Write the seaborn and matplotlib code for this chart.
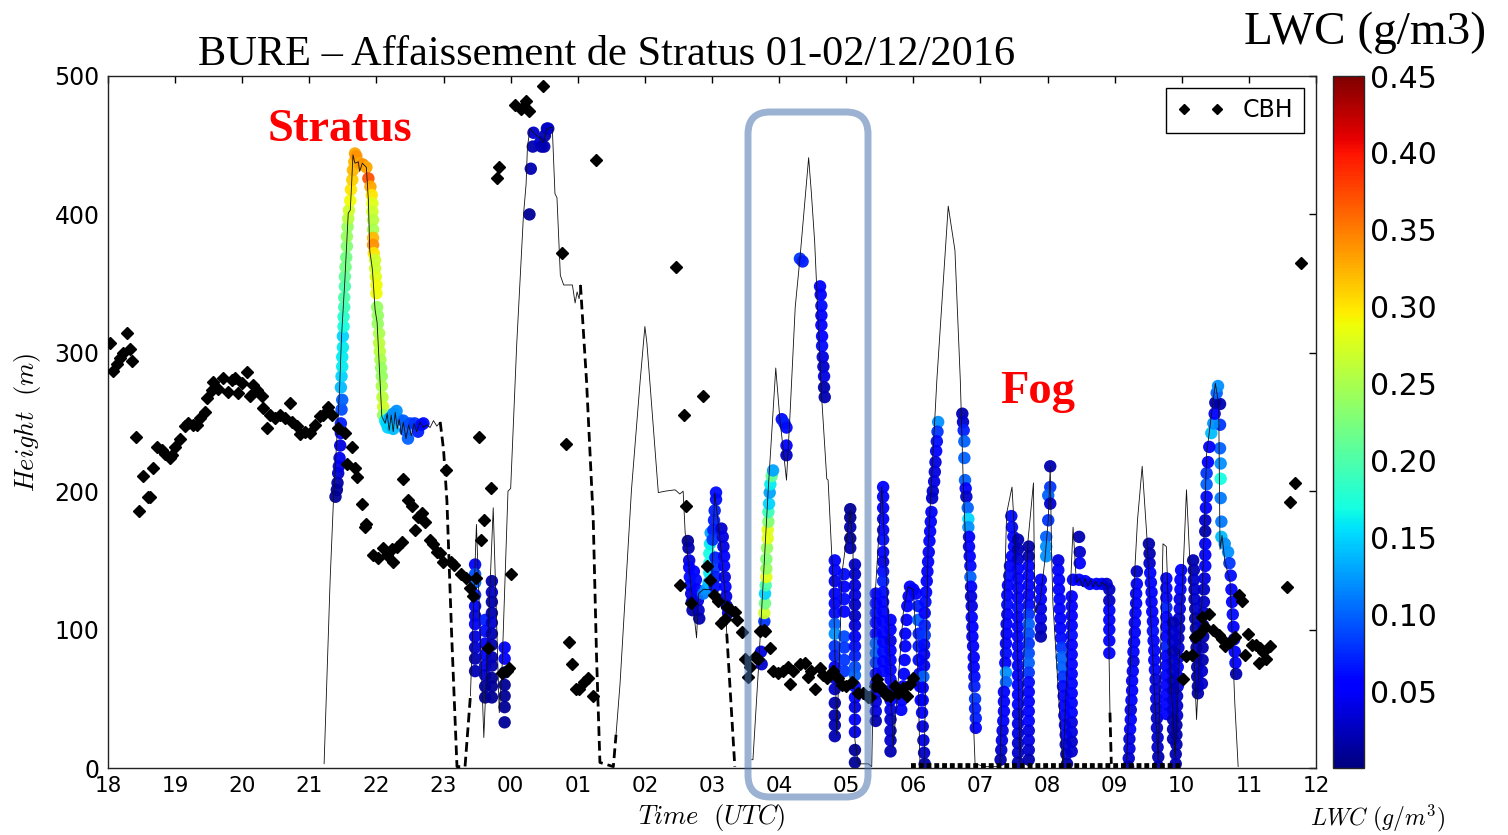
import matplotlib
matplotlib.use("Agg")
import matplotlib.pyplot as plt
import seaborn as sns
import pandas as pd
from matplotlib.cm import ScalarMappable
from matplotlib.colors import Normalize
from matplotlib.patches import FancyBboxPatch
from matplotlib.transforms import IdentityTransform

# ---------------------------------------------------------------- data
hour_ticks = list(range(18, 37))
hour_labels = [f"{h % 24:02d}" for h in hour_ticks]
height_ticks = [0, 100, 200, 300, 400, 500]
lwc_ticks = [0.05, 0.10, 0.15, 0.20, 0.25, 0.30, 0.35, 0.40, 0.45]

# cloud base height (t [h since 00 of day 1], height [m])
cbh_evening = [
    (18.03, 307), (18.07, 287), (18.13, 292), (18.18, 296), (18.22, 300), (18.28, 314), (18.33, 303), (18.36, 294),
    (18.42, 239), (18.46, 186), (18.52, 211), (18.60, 196), (18.62, 196), (18.67, 217), (18.73, 232), (18.80, 230),
    (18.85, 227), (18.92, 224), (18.95, 226), (19.00, 232), (19.07, 238), (19.15, 247), (19.19, 249), (19.27, 248),
    (19.33, 248), (19.37, 253), (19.45, 257), (19.48, 267), (19.55, 273), (19.56, 279), (19.64, 274), (19.71, 282),
    (19.79, 272), (19.85, 280), (19.89, 282), (19.94, 271), (20.00, 278), (20.07, 286), (20.12, 269), (20.16, 277),
    (20.22, 273), (20.29, 269), (20.31, 260), (20.37, 246), (20.41, 255), (20.49, 253), (20.56, 255), (20.64, 253),
    (20.71, 264), (20.74, 250), (20.82, 247), (20.86, 241), (20.94, 243), (21.01, 242), (21.08, 248), (21.16, 254),
    (21.20, 255), (21.28, 261), (21.34, 255), (21.43, 246), (21.53, 242), (21.64, 232), (21.56, 220), (21.68, 217),
    (21.71, 210), (21.78, 191), (21.83, 174), (21.85, 176), (21.95, 154), (22.02, 152), (22.10, 159), (22.16, 154),
    (22.25, 149), (22.23, 158), (22.31, 160), (22.38, 163), (22.40, 209), (22.47, 194), (22.53, 189), (22.57, 172),
    (22.62, 181), (22.68, 184), (22.72, 178), (22.80, 165), (22.84, 162), (22.90, 156), (22.95, 155), (22.99, 149),
]
cbh_night = [
    (23.04, 215), (23.11, 149), (23.16, 147), (23.26, 140), (23.33, 137), (23.39, 130), (23.44, 124), (23.49, 137),
    (23.53, 239), (23.56, 165), (23.61, 179), (23.71, 202), (23.66, 87), (23.87, 69), (23.94, 70), (23.98, 72),
    (24.00, 140), (23.80, 426), (23.83, 434), (24.06, 479), (24.16, 476), (24.23, 482), (24.27, 475), (24.48, 493),
    (24.76, 372), (25.27, 439), (24.82, 234), (24.87, 91), (24.92, 75), (24.98, 57), (25.02, 57), (25.09, 62),
    (25.15, 65), (25.22, 52),
]
cbh_morning = [
    (26.46, 362), (26.52, 132), (26.58, 255), (26.62, 189), (26.68, 119), (26.87, 269), (26.93, 146), (26.97, 136),
    (27.03, 125), (27.09, 121), (27.14, 105), (27.19, 108), (27.22, 116), (27.29, 114), (27.34, 113), (27.37, 107),
    (27.44, 98), (27.49, 79), (27.53, 66), (27.57, 73), (27.64, 80), (27.69, 79), (27.72, 99), (27.77, 100),
    (27.79, 99), (27.86, 87), (27.91, 70), (27.98, 69), (28.06, 70), (28.13, 73), (28.16, 61), (28.21, 70),
    (28.31, 75), (28.39, 76), (28.43, 66), (28.48, 70), (28.53, 57), (28.61, 72), (28.66, 67), (28.71, 65),
    (28.80, 70), (28.88, 65), (28.93, 60), (29.00, 59), (29.08, 62), (29.18, 54), (29.25, 54), (29.33, 51),
    (29.35, 51), (29.43, 59), (29.46, 64), (29.50, 59), (29.53, 56), (29.58, 55), (29.60, 53), (29.65, 52),
    (29.73, 59), (29.77, 54), (29.85, 58), (29.90, 52), (29.95, 61), (30.00, 65),
]
cbh_late = [
    (34.02, 64), (34.07, 81), (34.15, 82), (34.20, 95), (34.25, 97), (34.30, 109), (34.35, 102), (34.41, 111),
    (34.47, 100), (34.55, 96), (34.60, 93), (34.65, 88), (34.72, 91), (34.79, 95), (34.86, 125), (34.89, 121),
    (34.94, 82), (34.99, 97), (35.04, 89), (35.11, 89), (35.16, 87), (35.15, 76), (35.21, 84), (35.25, 79),
    (35.31, 88), (35.57, 131), (35.62, 192), (35.69, 206), (35.78, 365),
]
cbh_zero_span = [29.97, 34.02]   # CBH = 0 (fog) during this interval

# tethered-balloon altitude (solid) and the interpolated parts (dashed)
balloon_a = [
    (21.22, 3), (21.31, 136), (21.36, 194), (21.45, 273), (21.48, 312), (21.53, 353), (21.58, 401), (21.61, 403),
    (21.63, 422), (21.65, 443), (21.68, 437), (21.73, 438), (21.75, 431), (21.79, 437), (21.85, 434), (21.88, 410),
    (21.90, 374), (21.94, 360), (21.98, 331), (22.01, 322), (22.08, 254), (22.13, 249), (22.16, 256), (22.19, 244),
    (22.22, 255), (22.25, 243), (22.28, 257), (22.31, 245), (22.34, 252), (22.37, 241), (22.40, 250), (22.44, 238),
    (22.48, 248), (22.52, 240), (22.56, 249), (22.60, 243), (22.65, 250), (22.70, 246), (22.75, 248), (22.80, 246),
    (22.85, 251), (22.90, 247), (22.95, 250),
]
balloon_b = [
    (23.40, 52), (23.49, 176), (23.60, 22), (23.74, 188), (23.83, 40), (23.87, 70), (23.96, 200), (24.00, 202),
    (24.09, 306), (24.19, 399), (24.23, 422), (24.25, 449), (24.29, 462), (24.36, 458), (24.44, 455), (24.49, 452),
    (24.54, 462), (24.62, 463), (24.66, 415), (24.69, 412), (24.74, 356), (24.79, 349), (24.86, 349), (24.92, 349),
    (24.96, 336), (24.99, 344), (25.02, 339), (25.04, 349),
]
balloon_c = [
    (25.57, 24), (25.63, 61), (25.80, 201), (25.93, 280), (26.00, 319), (26.03, 307), (26.20, 199), (26.30, 200),
    (26.45, 201), (26.52, 198), (26.57, 200), (26.60, 170), (26.77, 94), (26.80, 126), (26.87, 129), (26.99, 129),
    (27.04, 199), (27.11, 170), (27.19, 129), (27.22, 97),
]
balloon_d = [
    (27.59, 6), (27.61, 6), (27.69, 70), (27.84, 203), (27.95, 289), (28.01, 253), (28.11, 208), (28.16, 253),
    (28.24, 333), (28.31, 368), (28.44, 441), (28.48, 416), (28.53, 380), (28.63, 271), (28.71, 209), (28.73, 208),
    (28.81, 129), (28.86, 24), (28.94, 142), (29.06, 186), (29.10, 160), (29.13, 20), (29.18, 3), (29.33, 3),
    (29.38, 1), (29.43, 124), (29.53, 203), (29.63, 107), (29.70, 15), (29.85, 112), (29.92, 131), (30.00, 129),
    (30.07, 68), (30.10, 1), (30.16, 1), (30.22, 160), (30.35, 280), (30.52, 406), (30.62, 374), (30.70, 280),
    (30.75, 196), (30.89, 40), (30.92, 3), (31.07, 1), (31.29, 1), (31.39, 184), (31.47, 203), (31.52, 160),
    (31.59, 4), (31.71, 165), (31.79, 206), (31.81, 112), (31.89, 121), (31.96, 150), (32.01, 179), (32.04, 218),
    (32.06, 155), (32.08, 119), (32.23, 1), (32.31, 95), (32.38, 174), (32.43, 134), (32.48, 137), (32.52, 131),
    (32.56, 137), (32.60, 131), (32.64, 136), (32.68, 131), (32.72, 135), (32.76, 131), (32.81, 134), (32.90, 131),
    (32.93, 40),
]
balloon_e = [
    (33.18, 6), (33.26, 107), (33.34, 179), (33.41, 218), (33.48, 167), (33.60, 47), (33.65, 6), (33.72, 162),
    (33.77, 160), (33.83, 71), (33.90, 8), (34.00, 119), (34.07, 201), (34.15, 119), (34.22, 35), (34.30, 119),
    (34.37, 227), (34.50, 278), (34.55, 263), (34.57, 158), (34.60, 168), (34.64, 150), (34.72, 134), (34.79, 47),
    (34.84, 1),
]
dashed_1 = [(22.95, 250), (23.00, 230), (23.05, 193), (23.12, 97), (23.20, 1), (23.32, 1), (23.40, 52)]
dashed_2 = [(25.04, 349), (25.13, 280), (25.23, 180), (25.28, 80), (25.33, 4), (25.53, 1), (25.57, 24)]
dashed_3 = [(27.22, 97), (27.34, 1)]
dashed_4 = [(32.93, 40), (32.95, 3)]

# liquid water content along the balloon path (t, height, LWC g/m3)
lwc_stratus = [
    (21.39, 196, 0.01), (21.41, 201, 0.01), (21.42, 206, 0.015), (21.43, 213, 0.03), (21.44, 218, 0.04),
    (21.45, 224, 0.045), (21.46, 233, 0.04), (21.47, 242, 0.05), (21.47, 249, 0.07), (21.48, 259, 0.09),
    (21.49, 266, 0.10), (21.47, 275, 0.14), (21.48, 283, 0.15), (21.49, 290, 0.16), (21.49, 297, 0.16),
    (21.50, 304, 0.16), (21.50, 312, 0.15), (21.51, 319, 0.17), (21.51, 326, 0.18), (21.52, 333, 0.19),
    (21.52, 340, 0.20), (21.53, 348, 0.20), (21.53, 355, 0.21), (21.54, 362, 0.22), (21.55, 369, 0.22),
    (21.56, 377, 0.23), (21.56, 384, 0.24), (21.57, 391, 0.24), (21.58, 397, 0.26), (21.59, 403, 0.27),
    (21.61, 410, 0.29), (21.62, 418, 0.30), (21.64, 425, 0.31), (21.65, 432, 0.32), (21.67, 438, 0.32),
    (21.68, 444, 0.33), (21.70, 442, 0.34), (21.75, 437, 0.33), (21.80, 436, 0.34), (21.85, 434, 0.33),
    (21.88, 426, 0.37), (21.91, 420, 0.33), (21.93, 414, 0.30), (21.94, 408, 0.28), (21.94, 402, 0.27),
    (21.95, 396, 0.26), (21.95, 389, 0.25), (21.95, 383, 0.32), (21.95, 378, 0.34), (21.96, 372, 0.30),
    (21.98, 367, 0.27), (21.98, 361, 0.27), (21.99, 355, 0.28), (22.00, 349, 0.29), (22.00, 343, 0.29),
    (22.01, 333, 0.24), (22.02, 327, 0.24), (22.02, 321, 0.24), (22.04, 314, 0.25), (22.04, 307, 0.26),
    (22.05, 301, 0.26), (22.06, 295, 0.25), (22.07, 289, 0.24), (22.08, 283, 0.24), (22.08, 276, 0.25),
    (22.09, 268, 0.26), (22.10, 261, 0.27), (22.10, 255, 0.24), (22.13, 251, 0.16), (22.15, 249, 0.15),
    (22.17, 246, 0.15), (22.20, 253, 0.13), (22.25, 256, 0.12), (22.25, 245, 0.14), (22.30, 258, 0.12),
    (22.33, 252, 0.12), (22.40, 251, 0.10), (22.43, 244, 0.10), (22.47, 238, 0.10), (22.50, 249, 0.09),
    (22.57, 249, 0.08), (22.62, 243, 0.07), (22.67, 248, 0.06), (22.70, 249, 0.06),
]
lwc_high_night = [
    (24.28, 400, 0.01), (24.30, 433, 0.02), (24.33, 449, 0.02), (24.34, 459, 0.03), (24.44, 452, 0.03),
    (24.46, 449, 0.02), (24.50, 449, 0.02), (24.51, 457, 0.02), (24.54, 462, 0.02), (24.56, 462, 0.03),
]
lwc_morning = [
    (26.64, 164, 0.01), (26.65, 159, 0.02), (26.66, 150, 0.04), (26.66, 145, 0.05), (26.67, 138, 0.06),
    (26.68, 132, 0.06), (26.69, 126, 0.04), (26.70, 120, 0.04), (26.71, 114, 0.02), (26.73, 142, 0.05),
    (26.76, 136, 0.06), (26.77, 129, 0.05), (26.79, 121, 0.04), (26.80, 114, 0.03), (26.81, 108, 0.02),
    (26.87, 126, 0.11), (26.91, 129, 0.12), (26.95, 134, 0.14), (26.96, 141, 0.16), (26.96, 148, 0.17),
    (26.96, 155, 0.17), (26.97, 162, 0.16), (26.98, 170, 0.13), (27.06, 199, 0.06), (27.06, 194, 0.06),
    (27.04, 186, 0.07), (27.03, 179, 0.07), (27.02, 172, 0.07), (27.01, 165, 0.08), (27.05, 152, 0.07),
    (27.05, 145, 0.08), (27.05, 138, 0.07), (27.04, 131, 0.06), (27.14, 173, 0.03), (27.16, 167, 0.04),
    (27.17, 160, 0.04), (27.18, 153, 0.05), (27.18, 146, 0.05), (27.19, 138, 0.04), (27.20, 131, 0.05),
    (27.21, 124, 0.04), (27.22, 117, 0.03), (27.24, 112, 0.04),
    (27.74, 75, 0.03), (27.73, 84, 0.04), (27.78, 106, 0.08), (27.78, 112, 0.27), (27.79, 119, 0.22),
    (27.79, 126, 0.15), (27.80, 132, 0.20), (27.81, 138, 0.28), (27.81, 144, 0.24), (27.81, 151, 0.23),
    (27.82, 159, 0.24), (27.83, 166, 0.28), (27.83, 172, 0.28), (27.84, 178, 0.23), (27.84, 185, 0.19),
    (27.85, 191, 0.15), (27.86, 199, 0.13), (27.87, 205, 0.16), (27.89, 211, 0.21), (27.91, 215, 0.13),
    (28.04, 252, 0.06), (28.08, 249, 0.07), (28.11, 246, 0.06), (28.11, 233, 0.05), (28.11, 226, 0.03),
    (28.31, 368, 0.08), (28.35, 366, 0.07), (28.61, 348, 0.05), (28.62, 342, 0.05), (28.63, 334, 0.06),
    (28.63, 327, 0.05), (28.63, 320, 0.05), (28.64, 312, 0.05), (28.64, 305, 0.06), (28.65, 297, 0.04),
    (28.66, 290, 0.03), (28.67, 283, 0.04), (28.67, 275, 0.02), (28.68, 268, 0.02),
]
lwc_late = [
    (32.47, 167, 0.02), (32.48, 156, 0.03), (32.48, 148, 0.05), (32.38, 136, 0.05), (32.47, 136, 0.05),
    (32.56, 135, 0.05), (32.63, 133, 0.05), (32.73, 133, 0.05), (32.81, 133, 0.05), (32.88, 133, 0.03),
    (34.57, 263, 0.02), (34.57, 248, 0.08), (34.57, 231, 0.10), (34.58, 220, 0.12), (34.58, 209, 0.17),
    (34.58, 195, 0.11), (34.59, 178, 0.11), (34.59, 167, 0.14), (34.64, 162, 0.12), (34.69, 156, 0.12),
    (34.71, 148, 0.08), (34.73, 139, 0.06), (34.74, 129, 0.05), (34.75, 120, 0.05), (34.76, 111, 0.06),
    (34.77, 102, 0.05), (34.78, 93, 0.05), (34.79, 84, 0.05), (34.80, 76, 0.05), (34.81, 68, 0.02),
]
# vertical soundings: (time or list of times, heights, LWC values)
lwc_profiles_night = [
    (23.47, [147, 140, 134, 125, 117, 110, 104, 95, 87, 79, 70],
     [0.05, 0.09, 0.10, 0.07, 0.05, 0.04, 0.05, 0.04, 0.03, 0.02, 0.02]),
    (23.62, [107, 99, 90, 82, 74, 67, 59, 51], [0.07, 0.06, 0.05, 0.05, 0.04, 0.03, 0.02, 0.01]),
    (23.72, [135, 127, 120, 112, 105, 97, 89, 80, 74, 65, 59, 51],
     [0.02, 0.03, 0.02, 0.02, 0.03, 0.02, 0.02, 0.02, 0.02, 0.01, 0.01, 0.01]),
    (23.91, [87, 79, 69, 60, 52, 44, 33], [0.05, 0.05, 0.02, 0.01, 0.01, 0.01, 0.01]),
]
lwc_profiles_dawn = [
    (28.83, [150, 143, 135, 126, 119, 112, 104, 97, 88, 81, 73, 65, 57, 47, 38, 31, 23],
     [0.05, 0.05, 0.04, 0.05, 0.05, 0.06, 0.10, 0.12, 0.08, 0.07, 0.05, 0.04, 0.03, 0.02, 0.02, 0.02, 0.02]),
    (28.97, [140, 131, 122, 113, 95, 87, 78, 70], [0.06, 0.05, 0.06, 0.05, 0.09, 0.08, 0.08, 0.08]),
    (29.06, [187, 181, 174, 166, 159], [0.01, 0.01, 0.02, 0.01, 0.02]),
    (29.13, [147, 140, 132, 125, 118, 110, 103, 95, 88, 81, 73, 67, 59, 51, 44, 35, 26, 13, 4],
     [0.03, 0.03, 0.04, 0.04, 0.03, 0.03, 0.04, 0.05, 0.06, 0.07, 0.09, 0.10, 0.06, 0.05, 0.04, 0.05, 0.04,
      0.01, 0.01]),
]
lwc_profiles_fog1 = [
    (29.44, [126, 119, 112, 105, 97, 90, 83, 76, 68, 61, 54, 48, 41, 34],
     [0.05, 0.05, 0.06, 0.05, 0.05, 0.10, 0.10, 0.08, 0.05, 0.05, 0.04, 0.04, 0.04, 0.02]),
    (29.55, [203, 196, 188, 180, 172, 165, 156, 149, 142, 135, 127, 120, 113, 106, 98, 91, 84, 77, 70],
     [0.05, 0.05, 0.05, 0.05, 0.05, 0.06, 0.05, 0.04, 0.06, 0.07, 0.06, 0.05, 0.05, 0.05, 0.05, 0.05, 0.06,
      0.05, 0.05]),
    (29.66, [107, 100, 92, 85, 78, 71, 64, 56, 49, 42, 35, 27, 20, 12],
     [0.05, 0.05, 0.04, 0.05, 0.05, 0.05, 0.05, 0.05, 0.05, 0.04, 0.03, 0.03, 0.03, 0.02]),
    ([29.95, 29.93, 29.91, 29.90, 29.88, 29.88, 29.87, 29.86, 29.85, 29.83, 29.82],
     [131, 124, 117, 107, 97, 88, 78, 68, 59, 49, 42],
     [0.05, 0.05, 0.05, 0.05, 0.05, 0.05, 0.05, 0.05, 0.05, 0.05, 0.05]),
    ([30.00, 30.04, 30.07, 30.07, 30.08, 30.08, 30.08, 30.09, 30.10, 30.11, 30.13, 30.14, 30.15, 30.16, 30.17],
     [129, 126, 117, 107, 97, 88, 78, 68, 59, 49, 40, 30, 20, 11, 3],
     [0.05, 0.05, 0.07, 0.10, 0.07, 0.07, 0.06, 0.06, 0.05, 0.05, 0.05, 0.04, 0.04, 0.03, 0.02]),
    ([30.37, 30.36, 30.35, 30.34, 30.33, 30.32, 30.31, 30.29, 30.28, 30.27, 30.26, 30.25, 30.24, 30.23,
      30.22, 30.21, 30.20, 30.19, 30.18, 30.17, 30.17, 30.17, 30.16, 30.16, 30.16, 30.15, 30.14, 30.14],
     [250, 243, 236, 229, 221, 214, 207, 200, 195, 185, 178, 171, 164, 156, 149, 142, 135, 127, 120, 112,
      103, 96, 89, 82, 74, 66, 58, 49],
     [0.12, 0.08, 0.06, 0.05, 0.04, 0.04, 0.04, 0.03, 0.03, 0.05, 0.05, 0.05, 0.05, 0.05, 0.05, 0.05, 0.05,
      0.05, 0.06, 0.05, 0.07, 0.08, 0.06, 0.05, 0.05, 0.10, 0.05, 0.05]),
    ([30.73, 30.74, 30.75, 30.76, 30.76, 30.77, 30.78, 30.79, 30.81, 30.82, 30.82, 30.83, 30.83, 30.84, 30.85,
      30.85, 30.86, 30.86, 30.87, 30.87, 30.88, 30.88, 30.89, 30.90, 30.90, 30.91, 30.91, 30.92, 30.92, 30.93,
      30.93],
     [256, 250, 244, 236, 224, 208, 202, 196, 188, 180, 174, 167, 160, 153, 146, 138, 131, 124, 117, 109, 102,
      95, 88, 80, 73, 66, 59, 50, 43, 36, 29],
     [0.02, 0.03, 0.07, 0.10, 0.10, 0.10, 0.05, 0.03, 0.10, 0.15, 0.12, 0.05, 0.05, 0.05, 0.06, 0.10, 0.05,
      0.04, 0.04, 0.05, 0.05, 0.05, 0.05, 0.05, 0.05, 0.06, 0.07, 0.08, 0.07, 0.07, 0.05]),
]
lwc_profiles_fog2 = [
    ([31.46, 31.47, 31.49, 31.50, 31.47, 31.44, 31.43, 31.41, 31.40, 31.40, 31.40, 31.39, 31.39, 31.38, 31.38,
      31.37, 31.38, 31.38, 31.35, 31.35, 31.35, 31.34, 31.33, 31.32, 31.31, 31.30],
     [182, 174, 167, 160, 153, 146, 139, 132, 125, 118, 111, 104, 97, 90, 83, 76, 69, 62, 55, 48, 41, 34, 27,
      20, 13, 6],
     [0.06, 0.06, 0.05, 0.05, 0.05, 0.05, 0.06, 0.05, 0.05, 0.06, 0.05, 0.05, 0.05, 0.05, 0.06, 0.05, 0.12,
      0.10, 0.05, 0.05, 0.05, 0.05, 0.04, 0.04, 0.03, 0.02]),
    (31.56, [165, 158, 151, 144, 137, 130, 123, 116, 109, 102, 95, 88, 81, 74, 67, 60, 53, 46, 39, 32, 25, 18,
             11, 4],
     [0.02, 0.02, 0.03, 0.05, 0.05, 0.05, 0.05, 0.06, 0.05, 0.05, 0.05, 0.05, 0.05, 0.05, 0.05, 0.05, 0.05,
      0.05, 0.04, 0.04, 0.04, 0.03, 0.03, 0.02]),
    (31.72, [160, 153, 146, 139, 132, 125, 118, 111, 104, 97, 90, 83, 76, 69, 62, 55, 48, 41, 34, 27, 20, 13,
             6],
     [0.02, 0.02, 0.05, 0.05, 0.05, 0.05, 0.06, 0.08, 0.10, 0.09, 0.08, 0.09, 0.10, 0.08, 0.06, 0.05, 0.05,
      0.05, 0.05, 0.04, 0.04, 0.03, 0.02]),
    (31.90, [136, 129, 122, 115, 108, 101, 95], [0.05, 0.05, 0.05, 0.04, 0.04, 0.03, 0.02]),
    ([32.04, 32.04, 32.01, 32.04, 32.01, 31.98, 31.98, 31.98], [218, 203, 197, 191, 179, 167, 160, 153],
     [0.02, 0.08, 0.10, 0.03, 0.08, 0.10, 0.12, 0.12]),
    ([32.16, 32.16, 32.17, 32.17, 32.18, 32.18, 32.19, 32.19, 32.20, 32.21, 32.21, 32.22, 32.23, 32.23, 32.24,
      32.25, 32.25, 32.26, 32.27, 32.27, 32.28, 32.29],
     [150, 143, 136, 129, 122, 115, 108, 101, 94, 87, 80, 73, 66, 59, 52, 45, 38, 31, 24, 17, 10, 3],
     [0.04, 0.05, 0.05, 0.05, 0.05, 0.05, 0.05, 0.05, 0.06, 0.08, 0.10, 0.10, 0.08, 0.06, 0.05, 0.05, 0.05,
      0.05, 0.05, 0.04, 0.03, 0.02]),
    (32.36, [124, 117, 110, 103, 96, 89, 82, 75, 68, 61, 54, 47, 40, 33, 26, 19, 12],
     [0.05, 0.05, 0.05, 0.05, 0.06, 0.05, 0.05, 0.05, 0.05, 0.05, 0.05, 0.05, 0.05, 0.04, 0.04, 0.03, 0.03]),
    (32.92, [129, 121, 114, 107, 100, 92, 83], [0.03, 0.03, 0.05, 0.05, 0.05, 0.05, 0.05]),
]
lwc_profiles_fog3 = [
    ([33.33, 33.33, 33.32, 33.32, 33.31, 33.30, 33.30, 33.29, 33.28, 33.28, 33.27, 33.26, 33.26, 33.25, 33.24,
      33.24, 33.23, 33.22, 33.22, 33.21, 33.20],
     [142, 133, 126, 119, 112, 105, 98, 91, 84, 77, 70, 63, 56, 49, 42, 35, 28, 21, 14, 7, 1],
     [0.03, 0.05, 0.05, 0.05, 0.05, 0.05, 0.05, 0.05, 0.05, 0.04, 0.05, 0.05, 0.05, 0.05, 0.04, 0.05, 0.05,
      0.04, 0.04, 0.03, 0.02]),
    ([33.51, 33.52, 33.52, 33.53, 33.54, 33.55, 33.55, 33.56, 33.57, 33.57, 33.58, 33.59, 33.59, 33.60, 33.61,
      33.61, 33.62, 33.62, 33.63, 33.63, 33.64, 33.64, 33.65, 33.65],
     [162, 155, 148, 141, 134, 127, 120, 113, 106, 99, 92, 85, 78, 71, 64, 57, 50, 43, 36, 29, 22, 15, 8, 1],
     [0.02, 0.02, 0.03, 0.05, 0.05, 0.05, 0.05, 0.05, 0.05, 0.06, 0.05, 0.05, 0.05, 0.05, 0.04, 0.04, 0.04,
      0.03, 0.03, 0.03, 0.03, 0.03, 0.02, 0.02]),
    (33.77, [137, 130, 123, 116, 109, 102, 95, 88, 81, 74, 67, 60, 53, 46, 39],
     [0.05, 0.05, 0.05, 0.07, 0.05, 0.05, 0.05, 0.07, 0.05, 0.05, 0.05, 0.05, 0.05, 0.05, 0.05]),
    ([33.99, 33.98, 33.98, 33.97, 33.97, 33.96, 33.96, 33.95, 33.95, 33.95, 33.94, 33.94, 33.94, 33.93, 33.93,
      33.93, 33.92, 33.92, 33.92, 33.91, 33.91],
     [143, 136, 129, 122, 115, 108, 101, 94, 87, 80, 73, 66, 59, 52, 45, 38, 31, 24, 17, 10, 3],
     [0.05, 0.05, 0.05, 0.04, 0.04, 0.03, 0.03, 0.03, 0.04, 0.04, 0.05, 0.05, 0.04, 0.03, 0.03, 0.03, 0.02,
      0.02, 0.02, 0.02, 0.02]),
    (33.87, [105, 98, 91, 84, 77, 70, 63, 56, 49, 42, 35, 28, 21],
     [0.02, 0.03, 0.03, 0.02, 0.03, 0.03, 0.02, 0.02, 0.03, 0.03, 0.02, 0.02, 0.02]),
    ([34.17, 34.18, 34.18, 34.19, 34.19, 34.20, 34.20, 34.21, 34.21, 34.22, 34.22, 34.23, 34.23, 34.24, 34.24],
     [150, 143, 136, 129, 122, 115, 108, 101, 94, 87, 80, 73, 66, 59, 54],
     [0.02, 0.02, 0.03, 0.03, 0.03, 0.03, 0.02, 0.02, 0.02, 0.02, 0.02, 0.02, 0.02, 0.02, 0.02]),
    ([34.30, 34.30, 34.31, 34.31, 34.32, 34.32, 34.33, 34.33, 34.33, 34.34, 34.35, 34.35, 34.35, 34.35, 34.35,
      34.36, 34.37, 34.37, 34.37, 34.39, 34.41, 34.44, 34.47, 34.49, 34.50, 34.52, 34.54],
     [61, 70, 78, 87, 95, 103, 112, 120, 129, 137, 146, 154, 162, 171, 179, 188, 196, 205, 213, 221, 232, 242,
      249, 256, 264, 271, 276],
     [0.03, 0.03, 0.02, 0.02, 0.02, 0.03, 0.03, 0.03, 0.03, 0.04, 0.05, 0.05, 0.05, 0.02, 0.03, 0.05, 0.06,
      0.10, 0.08, 0.05, 0.05, 0.14, 0.12, 0.05, 0.02, 0.10, 0.12]),
]

# ---------------------------------------------------------------- tables
rows = []
for pts in (lwc_stratus, lwc_high_night, lwc_morning, lwc_late):
    rows += [dict(t=t, h=h, lwc=v) for t, h, v in pts]
for profiles in (lwc_profiles_night, lwc_profiles_dawn, lwc_profiles_fog1, lwc_profiles_fog2, lwc_profiles_fog3):
    for ts, hs, vs in profiles:
        tl = ts if isinstance(ts, list) else [ts] * len(hs)
        rows += [dict(t=t, h=h, lwc=v) for t, h, v in zip(tl, hs, vs)]
lwc_df = pd.DataFrame(rows)

cbh_pts = cbh_evening + cbh_night + cbh_morning + cbh_late
cbh_df = pd.DataFrame(cbh_pts, columns=["t", "h"])

# ---------------------------------------------------------------- figure
sns.set_style("white")
plt.rcParams["font.family"] = ["DejaVu Sans"]
plt.rcParams["mathtext.fontset"] = "cm"
for k in ("text.color", "axes.labelcolor", "xtick.color", "ytick.color"):
    plt.rcParams[k] = "black"

W, H = 1508, 835
fig = plt.figure(figsize=(W / 100, H / 100), dpi=100)
ax = fig.add_axes([108 / W, 67 / H, 1208 / W, 692 / H])
cax = fig.add_axes([1333 / W, 67 / H, 31 / W, 692 / H])

jet = matplotlib.colormaps["jet"]
norm = Normalize(vmin=0.0, vmax=0.45)
sns.scatterplot(data=lwc_df, x="t", y="h", hue="lwc", palette=jet, hue_norm=norm,
                s=80, linewidth=0, alpha=0.95, legend=False, ax=ax, zorder=2)

for seg in (balloon_a, balloon_b, balloon_c, balloon_d, balloon_e):
    ax.plot([p[0] for p in seg], [p[1] for p in seg], color="#111111", lw=0.6, zorder=3)
for seg in (dashed_1, dashed_2, dashed_3, dashed_4):
    ax.plot([p[0] for p in seg], [p[1] for p in seg], color="black", lw=2.0,
            linestyle=(0, (3.5, 1.8)), zorder=3)
ax.plot(cbh_zero_span, [0, 0], color="black", lw=7, linestyle=(0, (0.5, 0.3)), zorder=4)

ax.plot(cbh_df["t"], cbh_df["h"], linestyle="none", marker="D", ms=6.3, color="black",
        label="CBH", zorder=5)

ax.set_xlim(18, 36)
ax.set_ylim(0, 500)
ax.set_xticks(hour_ticks)
ax.set_xticklabels(hour_labels)
ax.set_yticks(height_ticks)
ax.tick_params(axis="both", direction="in", top=True, right=True, length=5, width=1, color="black")
ax.tick_params(axis="x", labelsize=15.5, pad=6)
ax.tick_params(axis="y", labelsize=17, pad=6)
for sp in ax.spines.values():
    sp.set_color("#222222")
    sp.set_linewidth(1.0)
ax.set_xlabel(r"$Time\ \ (UTC)$", fontsize=19, labelpad=4)
ax.set_ylabel(r"$Height\ \ (m)$", fontsize=19, labelpad=8)

leg = ax.legend(loc="upper right", numpoints=2, fontsize=17, frameon=True, fancybox=False,
                framealpha=1, edgecolor="black", markerscale=0.8, borderpad=0.45,
                handlelength=2.0, borderaxespad=0.5)
leg.get_frame().set_linewidth(1.0)

sm = ScalarMappable(norm=norm, cmap=jet)
cb = fig.colorbar(sm, cax=cax)
cb.set_ticks(lwc_ticks)
cb.set_ticklabels([f"{v:.2f}" for v in lwc_ticks])
cb.ax.tick_params(labelsize=21.5, direction="in", length=4, pad=4, colors="black")
cb.outline.set_linewidth(1.0)

serif = ["Liberation Serif", "DejaVu Serif"]
fig.text(607 / W, 1 - 65 / H, "BURE – Affaissement de Stratus 01-02/12/2016", ha="center",
         va="baseline", fontsize=30.5, family=serif)
fig.text(1365 / W, 1 - 44 / H, "LWC (g/m3)", ha="center", va="baseline", fontsize=34, family=serif)
fig.text(340 / W, 1 - 141 / H, "Stratus", ha="center", va="baseline", fontsize=33.5, family=serif,
         color="red", fontweight="bold")
fig.text(1038 / W, 1 - 403 / H, "Fog", ha="center", va="baseline", fontsize=33.5, family=serif,
         color="red", fontweight="bold")
fig.text(1378 / W, 1 - 818 / H, r"$LWC\ (g/m^3)$", ha="center", va="center", fontsize=17)

box = FancyBboxPatch((748, H - 797), 120, 797 - 112, boxstyle="round,pad=0,rounding_size=22",
                     transform=IdentityTransform(), facecolor="none",
                     edgecolor=(0.287, 0.451, 0.68), alpha=0.55, linewidth=5.0, zorder=10)
fig.add_artist(box)

fig.savefig("out.png", dpi=100)
